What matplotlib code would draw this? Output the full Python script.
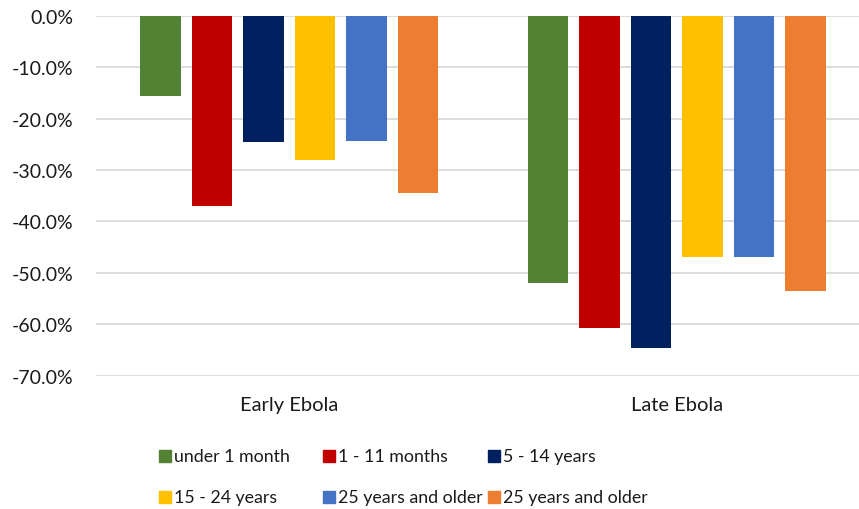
import numpy as np
import matplotlib.pyplot as plt
from matplotlib.patches import Rectangle
from matplotlib.ticker import FuncFormatter

plt.rcParams['font.family'] = ['Lato', 'DejaVu Sans']

# percentage change by period and age group
periods = ["Early Ebola", "Late Ebola"]
groups = ["under 1 month", "1 - 11 months", "5 - 14 years",
          "15 - 24 years", "25 years and older", "25 years and older"]
under_1_month = [-15.6, -52.0]
months_1_11 = [-37.0, -60.7]
years_5_14 = [-24.5, -64.6]
years_15_24 = [-28.0, -47.0]
years_25_plus_a = [-24.3, -46.9]
years_25_plus_b = [-34.4, -53.5]
series = [under_1_month, months_1_11, years_5_14,
          years_15_24, years_25_plus_a, years_25_plus_b]
colors = ["#548235", "#C00000", "#002060", "#FFC000", "#4472C4", "#ED7D31"]

fs = 14
fig = plt.figure(figsize=(8.59, 5.10), dpi=100)
ax = fig.add_axes([0.1113, 0.2614, 0.8887, 0.7059])

x = np.arange(len(periods))
width = 0.1045
step = 0.133
for i, (vals, c) in enumerate(zip(series, colors)):
    ax.bar(x + (i - 2.5) * step, vals, width, color=c, zorder=3)

ax.set_ylim(-70, 0)
ax.set_xlim(-0.5, 1.47)
ax.set_yticks(np.arange(-70, 1, 10))
ax.yaxis.set_major_formatter(FuncFormatter(lambda v, p: f"{v:.1f}%"))
ax.grid(axis='y', color='#D9D9D9', linewidth=1.3, zorder=0)
for s in ax.spines.values():
    s.set_visible(False)
ax.tick_params(axis='both', length=0, labelsize=fs, colors='#1a1a1a')
ax.tick_params(axis='y', pad=16)
ax.set_xticks([])
for xi, name in zip(x, periods):
    ax.text(xi, -75.6, name, ha='center', va='center', fontsize=14.5,
            color='#1a1a1a')

# legend laid out in fixed-width columns
col_x = [159, 323, 488]
row_y = [456.7, 498]
sq = 12
for k, (name, c) in enumerate(zip(groups, colors)):
    r, col = divmod(k, 3)
    px, py = col_x[col], row_y[r]
    fig.patches.append(Rectangle((px / 859, 1 - (py + sq / 2) / 510),
                                 sq / 859, sq / 510, color=c,
                                 transform=fig.transFigure, figure=fig))
    fig.text((px + 15) / 859, 1 - py / 510, name, ha='left', va='center',
             fontsize=12.8, color='#1a1a1a')

fig.savefig("out.png", dpi=100)
